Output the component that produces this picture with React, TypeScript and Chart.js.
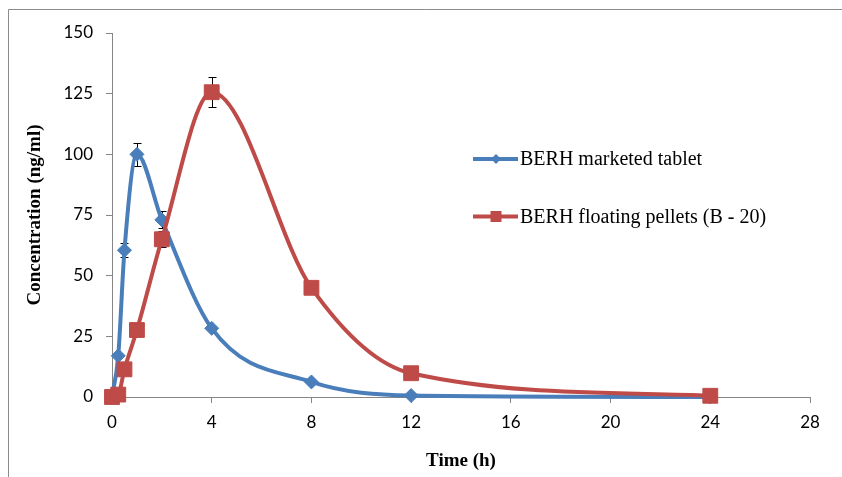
import { useEffect, useRef } from "react";
import { Chart, registerables } from "chart.js";

Chart.register(...registerables);

// ---- data ----
const timeHours = [0, 0.25, 0.5, 1, 2, 4, 8, 12, 24];
const marketedTablet = [0, 17, 60.5, 100, 73, 28.3, 6.2, 0.6, 0];
const marketedTabletSD = [0, 0, 3, 4.8, 3.5, 0, 0, 0, 0];
const floatingPellets = [0, 1, 11.4, 27.6, 65, 125.6, 45, 9.8, 0.5];
const floatingPelletsSD = [0, 0, 0, 0, 3.3, 6.2, 0, 0, 0];
const seriesLabels = ["BERH marketed tablet", "BERH floating pellets (B - 20)"];
const xTickValues = [0, 4, 8, 12, 16, 20, 24, 28];
const yTickValues = [0, 25, 50, 75, 100, 125, 150];
const xTitle = "Time (h)";
const yTitle = "Concentration (ng/ml)";

const BLUE = "#4a7ebb";
const RED = "#be4b48";
const AXIS = "#868686";
const TICK_FONT = { family: "Lato", size: 17 };
const TITLE_FONT = { family: "Liberation Serif", size: 19, weight: "bold" as const, lineHeight: 0.8 };

const framePlugin = {
  id: "frame",
  beforeDraw(chart: any) {
    const { ctx, height, width } = chart;
    ctx.save();
    ctx.strokeStyle = "#8c8c8c";
    ctx.lineWidth = 1;
    ctx.beginPath();
    ctx.moveTo(0.5, height);
    ctx.lineTo(0.5, 1.5);
    ctx.lineTo(width, 1.5);
    ctx.stroke();
    ctx.restore();
  },
};

const errorBarPlugin = {
  id: "errorBars",
  beforeDatasetsDraw(chart: any) {
    const { ctx } = chart;
    const xs = chart.scales.x;
    const ys = chart.scales.y;
    ctx.save();
    ctx.strokeStyle = "#000";
    ctx.lineWidth = 1;
    chart.data.datasets.forEach((ds: any) => {
      const errs: number[] = ds.errors || [];
      ds.data.forEach((p: any, i: number) => {
        const e = errs[i];
        if (!e) return;
        const x = Math.round(xs.getPixelForValue(p.x)) + 0.5;
        const yt = Math.round(ys.getPixelForValue(p.y + e)) + 0.5;
        const yb = Math.round(ys.getPixelForValue(p.y - e)) + 0.5;
        ctx.beginPath();
        ctx.moveTo(x, yt);
        ctx.lineTo(x, yb);
        ctx.moveTo(x - 4, yt);
        ctx.lineTo(x + 4, yt);
        ctx.moveTo(x - 4, yb);
        ctx.lineTo(x + 4, yb);
        ctx.stroke();
      });
    });
    ctx.restore();
  },
};

const legendPlugin = {
  id: "insideLegend",
  afterDraw(chart: any) {
    const { ctx } = chart;
    const items = [
      { label: seriesLabels[0], color: BLUE, shape: "diamond", y: 151 },
      { label: seriesLabels[1], color: RED, shape: "square", y: 208.5 },
    ];
    ctx.save();
    items.forEach((it) => {
      ctx.strokeStyle = it.color;
      ctx.fillStyle = it.color;
      ctx.lineWidth = 4;
      ctx.beginPath();
      ctx.moveTo(465, it.y);
      ctx.lineTo(510, it.y);
      ctx.stroke();
      const cx = 488;
      ctx.beginPath();
      if (it.shape === "diamond") {
        ctx.moveTo(cx - 5, it.y);
        ctx.lineTo(cx, it.y - 5);
        ctx.lineTo(cx + 5, it.y);
        ctx.lineTo(cx, it.y + 5);
        ctx.closePath();
      } else {
        ctx.rect(cx - 5.5, it.y - 5.5, 11, 11);
      }
      ctx.fill();
      ctx.fillStyle = "#000";
      ctx.font = "20px 'Liberation Serif'";
      ctx.textAlign = "left";
      ctx.textBaseline = "middle";
      ctx.fillText(it.label, 512, it.y + 1);
    });
    ctx.restore();
  },
};

export default function App() {
  const ref = useRef<HTMLCanvasElement>(null);
  useEffect(() => {
    const chart = new Chart(ref.current as HTMLCanvasElement, {
      type: "line",
      data: {
        datasets: [
          {
            label: seriesLabels[0],
            data: timeHours.map((x, i) => ({ x, y: marketedTablet[i] })),
            borderColor: BLUE,
            backgroundColor: BLUE,
            borderWidth: 4,
            pointStyle: "rectRot",
            pointRadius: 7,
            pointBorderWidth: 1,
            cubicInterpolationMode: "monotone",
            clip: false,
            order: 1,
            errors: marketedTabletSD,
          } as any,
          {
            label: seriesLabels[1],
            data: timeHours.map((x, i) => ({ x, y: floatingPellets[i] })),
            borderColor: RED,
            backgroundColor: RED,
            borderWidth: 4,
            pointStyle: "rect",
            pointRadius: 10.5,
            pointBorderWidth: 1,
            cubicInterpolationMode: "monotone",
            clip: false,
            order: 0,
            errors: floatingPelletsSD,
          } as any,
        ],
      },
      options: {
        responsive: false,
        animation: false,
        layout: { padding: { left: 0, top: 25, right: 32, bottom: 8 } },
        plugins: { legend: { display: false }, tooltip: { enabled: false } },
        scales: {
          x: {
            type: "linear",
            min: 0,
            max: 28,
            afterFit: (s: any) => {
              s.height = 72;
            },
            afterBuildTicks: (s: any) => {
              s.ticks = xTickValues.map((v) => ({ value: v }));
            },
            grid: { drawOnChartArea: false, drawTicks: true, tickLength: 6, color: AXIS },
            border: { color: AXIS, width: 1 },
            ticks: { font: TICK_FONT, color: "#000", padding: 9, maxRotation: 0 },
            title: { display: true, text: xTitle, font: TITLE_FONT, color: "#000", padding: { top: 0, bottom: 0 } },
          },
          y: {
            type: "linear",
            min: 0,
            max: 150,
            afterFit: (s: any) => {
              s.width = 104;
            },
            afterBuildTicks: (s: any) => {
              s.ticks = yTickValues.map((v) => ({ value: v }));
            },
            grid: { drawOnChartArea: false, drawTicks: true, tickLength: 6, color: AXIS },
            border: { color: AXIS, width: 1 },
            ticks: { font: TICK_FONT, color: "#000", padding: 13 },
            title: { display: true, text: yTitle, font: TITLE_FONT, color: "#000", padding: { top: 19, bottom: 0 } },
          },
        },
      } as any,
      plugins: [framePlugin, errorBarPlugin, legendPlugin],
    });
    return () => chart.destroy();
  }, []);
  return (
    <div style={{ position: "absolute", width: 834, height: 469 }}>
      <canvas ref={ref} width={834} height={469} style={{ display: "block" }} />
    </div>
  );
}
